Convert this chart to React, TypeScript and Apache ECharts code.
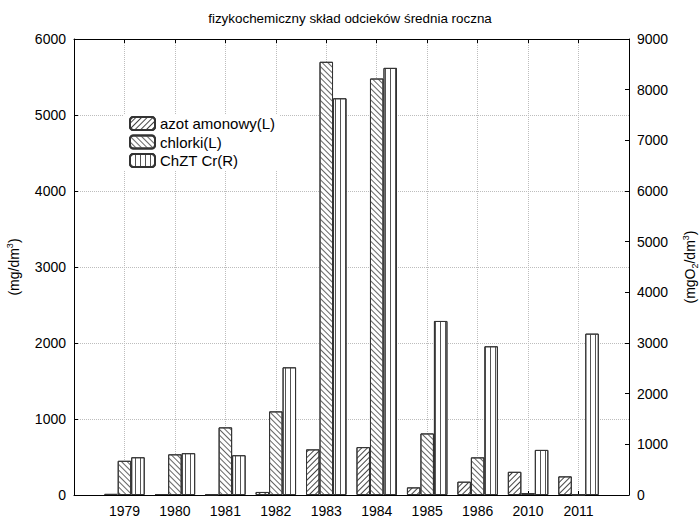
import React, { useEffect, useRef } from 'react';
import * as echarts from 'echarts';

const years = ['1979', '1980', '1981', '1982', '1983', '1984', '1985', '1986', '2010', '2011'];
const azotAmonowy = [15, 12, 8, 40, 600, 630, 100, 175, 305, 245];
const chlorki = [450, 535, 890, 1100, 5700, 5480, 810, 495, 25, 5];
const chztCr = [745, 825, 785, 2520, 7830, 8430, 3435, 2935, 890, 3185];

const seriesNames = ['azot amonowy(L)', 'chlorki(L)', 'ChZT Cr(R)'];
const titleText = 'fizykochemiczny skład odcieków średnia roczna';

export default function App() {
  const ref = useRef<HTMLDivElement>(null);
  useEffect(() => {
    const chart = echarts.init(ref.current!, null, { renderer: 'svg' });
    const font = "'Liberation Sans', Arial, sans-serif";
    const toPoints = (arr: number[]) => arr.map((v, i) => [i, v]);
    const barStyle = (decal: any) => ({ color: '#fff', borderColor: '#333', borderWidth: 1, decal });
    const gridLine = { show: true, lineStyle: { color: '#bdbdbd', type: 'dotted', width: 1 } };
    const axisLine = { show: true, onZero: false, lineStyle: { color: '#000', width: 1 } };
    const axisTick = { show: true, inside: true, length: 4, lineStyle: { color: '#000' } };
    const plain = (v: number) => String(v);
    const richName = {
      sup: { fontSize: 9, fontFamily: font, color: '#000', verticalAlign: 'top', lineHeight: 10 },
      sub: { fontSize: 9, fontFamily: font, color: '#000', verticalAlign: 'bottom', lineHeight: 10 },
    };

    chart.setOption({
      animation: false,
      backgroundColor: '#fff',
      textStyle: { fontFamily: font },
      title: {
        text: titleText,
        left: 'center',
        top: 7,
        textStyle: { fontSize: 13.4, fontWeight: 'normal', color: '#000', fontFamily: font },
      },
      legend: {
        orient: 'vertical',
        left: 124,
        top: 115,
        padding: [1, 5, 3, 5],
        backgroundColor: '#fff',
        itemWidth: 25,
        itemHeight: 13,
        itemGap: 3.5,
        data: seriesNames,
        textStyle: { fontSize: 15, color: '#000', fontFamily: font },
      },
      grid: { left: 74, right: 71, top: 39, bottom: 26, outerBoundsMode: 'none', containLabel: false },
      xAxis: [
        {
          type: 'value',
          position: 'bottom',
          min: -1,
          max: 10,
          interval: 1,
          axisLine,
          axisTick,
          splitLine: gridLine,
          axisLabel: {
            formatter: (v: number) => years[v] ?? '',
            margin: 9,
            fontSize: 14,
            color: '#000',
            fontFamily: font,
          },
        },
        {
          type: 'value',
          position: 'top',
          min: -1,
          max: 10,
          interval: 1,
          axisLine,
          axisTick,
          splitLine: { show: false },
          axisLabel: { show: false },
        },
      ],
      yAxis: [
        {
          type: 'value',
          position: 'left',
          min: 0,
          max: 6000,
          interval: 1000,
          axisLine,
          axisTick,
          splitLine: gridLine,
          axisLabel: { margin: 8, fontSize: 14, color: '#000', fontFamily: font, formatter: plain },
          name: '(mg/dm{sup|3})',
          nameLocation: 'middle',
          nameRotate: 90,
          nameGap: 51,
          nameTextStyle: { fontSize: 14, color: '#000', fontFamily: font, lineHeight: 18, rich: richName },
        },
        {
          type: 'value',
          position: 'right',
          min: 0,
          max: 9000,
          interval: 1000,
          axisLine,
          axisTick,
          splitLine: { show: false },
          axisLabel: { margin: 8, fontSize: 14, color: '#000', fontFamily: font, formatter: plain },
          name: '(mgO{sub|2}/dm{sup|3})',
          nameLocation: 'middle',
          nameRotate: 90,
          nameGap: 52,
          nameTextStyle: { fontSize: 14, color: '#000', fontFamily: font, lineHeight: 18, rich: richName },
        },
      ],
      series: [
        {
          name: seriesNames[0],
          type: 'bar',
          xAxisIndex: 0,
          yAxisIndex: 0,
          barWidth: 13.5,
          barGap: '0%',
          itemStyle: barStyle({
            symbol: 'rect', symbolSize: 1, dashArrayX: [1, 0], dashArrayY: [1, 3],
            rotation: -Math.PI / 4, color: '#444',
          }),
          data: toPoints(azotAmonowy),
        },
        {
          name: seriesNames[1],
          type: 'bar',
          xAxisIndex: 0,
          yAxisIndex: 0,
          barWidth: 13.5,
          barGap: '0%',
          itemStyle: barStyle({
            symbol: 'rect', symbolSize: 1, dashArrayX: [1, 0], dashArrayY: [1, 2.5],
            rotation: Math.PI / 4, color: '#666',
          }),
          data: toPoints(chlorki),
        },
        {
          name: seriesNames[2],
          type: 'bar',
          xAxisIndex: 0,
          yAxisIndex: 1,
          barWidth: 13.5,
          barGap: '0%',
          itemStyle: barStyle({
            symbol: 'rect', symbolSize: 1, dashArrayX: [1, 3.5], dashArrayY: [1, 0],
            rotation: 0, color: '#555',
          }),
          data: toPoints(chztCr),
        },
      ],
    });
    return () => chart.dispose();
  }, []);
  return <div ref={ref} style={{ position: 'fixed', left: 0, top: 0, width: 700, height: 521 }} />;
}
